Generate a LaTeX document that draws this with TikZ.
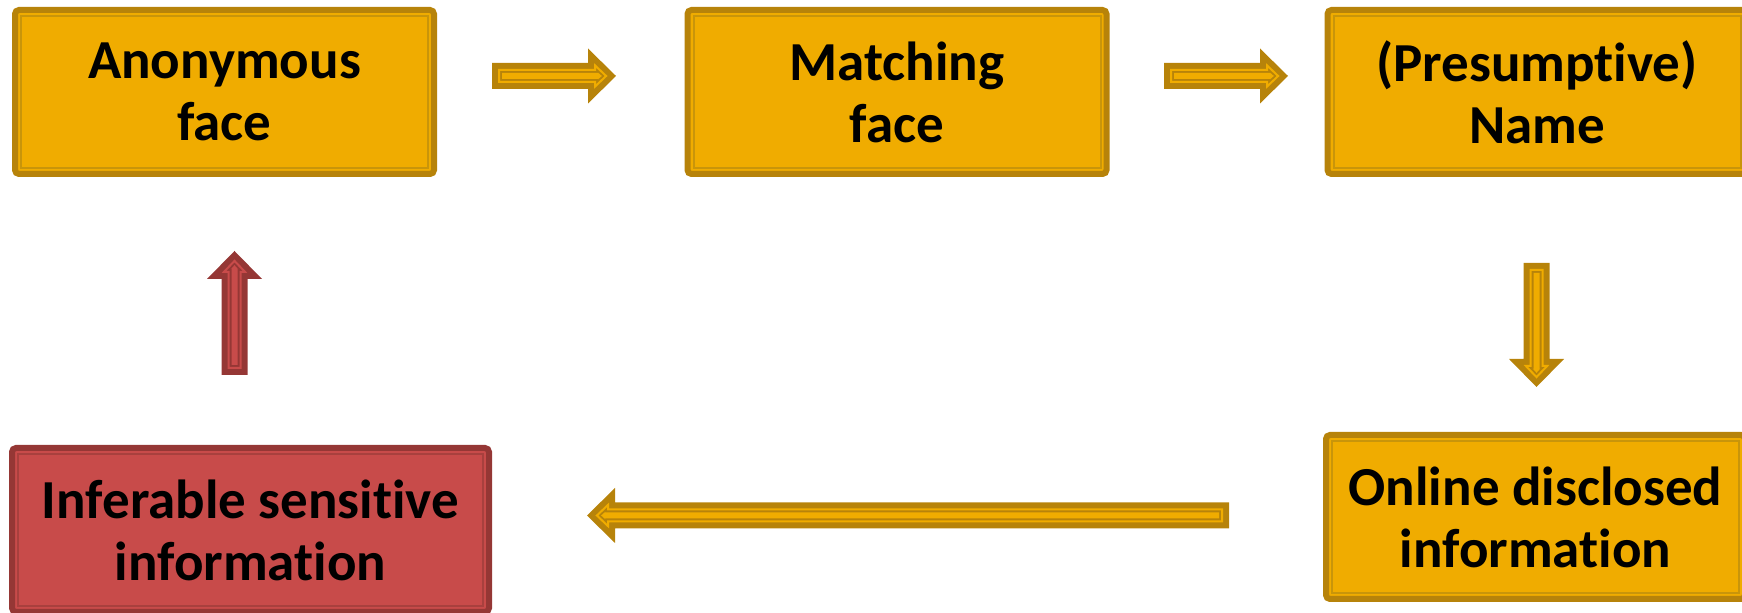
\documentclass[tikz,border=0pt]{standalone}
\usepackage{fontspec}
\setmainfont{Carlito}[Ligatures={NoCommon}]
\definecolor{gold}{HTML}{F0AC00}
\definecolor{goldD}{HTML}{B7830A}
\definecolor{goldL}{HTML}{C9950A}
\definecolor{redF}{HTML}{C84B4A}
\definecolor{redD}{HTML}{953735}
\definecolor{redL}{HTML}{A8403E}
% block arrow outline pointing along +x, tail at the origin:
% #1 = length, #2 = inset from the outer edge
\newcommand\arrowpath[2]{(#2,{-(13-#2)}) -- ({#1-28+#2},{-(13-#2)}) -- ({#1-28+#2},{-(27.5-2.414*#2)}) -- ({#1-1.414*#2},0) -- ({#1-28+#2},{27.5-2.414*#2}) -- ({#1-28+#2},{13-#2}) -- (#2,{13-#2}) -- cycle}
\tikzset{
  pics/blockarrow/.style n args={3}{code={
    \fill[#2] \arrowpath{#1}{0};
    \draw[#3, line width=1pt, line join=miter] \arrowpath{#1}{7};
    \fill[#3] \arrowpath{#1}{10};
  }},
  stage/.style={rectangle, draw=goldD, fill=gold, line width=3pt, rounded corners=2pt,
    minimum width=209.5pt, minimum height=82pt, outer sep=0pt, inner sep=0pt,
    align=center, font=\fontsize{27.5}{31}\selectfont\bfseries, text=black},
  result/.style={stage, draw=redD, fill=redF, minimum width=238.5pt},
  innerline/.style={line width=1pt}
}
\begin{document}
\begin{tikzpicture}[x=0.5pt, y=-0.5pt]
\useasboundingbox (0,0) rectangle (1742,613);
\clip (0,0) rectangle (1742,613);

% process stages
\node[stage]  (anon)   at (224.5,92)  {Anonymous\\face};
\node[stage]  (match)  at (897,92)    {Matching\\face};
\node[stage]  (name)   at (1537,92)   {(Presumptive)\\Name};
\node[stage]  (online) at (1535.5,517) {Online disclosed\\information};
\node[result] (infer)  at (250.5,530) {Inferable sensitive\\information};

% inner frame lines of the boxes
\foreach \n in {anon,match,name,online}
  \draw[innerline, goldL] ([shift={(6,6)}]\n.north west) rectangle ([shift={(-6,-6)}]\n.south east);
\draw[innerline, redL] ([shift={(6,6)}]infer.north west) rectangle ([shift={(-6,-6)}]infer.south east);

% block arrows between the stages
\coordinate (a1) at (492,76);
\coordinate (a2) at (1164,76);
\coordinate (a3) at (1536.5,263);
\coordinate (a4) at (1229,515.5);
\coordinate (a5) at (234.5,375);
\pic at (a1) {blockarrow={124}{goldD}{gold}};
\pic at (a2) {blockarrow={124}{goldD}{gold}};
\pic[rotate=-90] at (a3) {blockarrow={124}{goldD}{gold}};
\pic[rotate=180] at (a4) {blockarrow={642}{goldD}{gold}};
\pic[rotate=90] at (a5) {blockarrow={124}{redD}{redF}};
\end{tikzpicture}
\end{document}
